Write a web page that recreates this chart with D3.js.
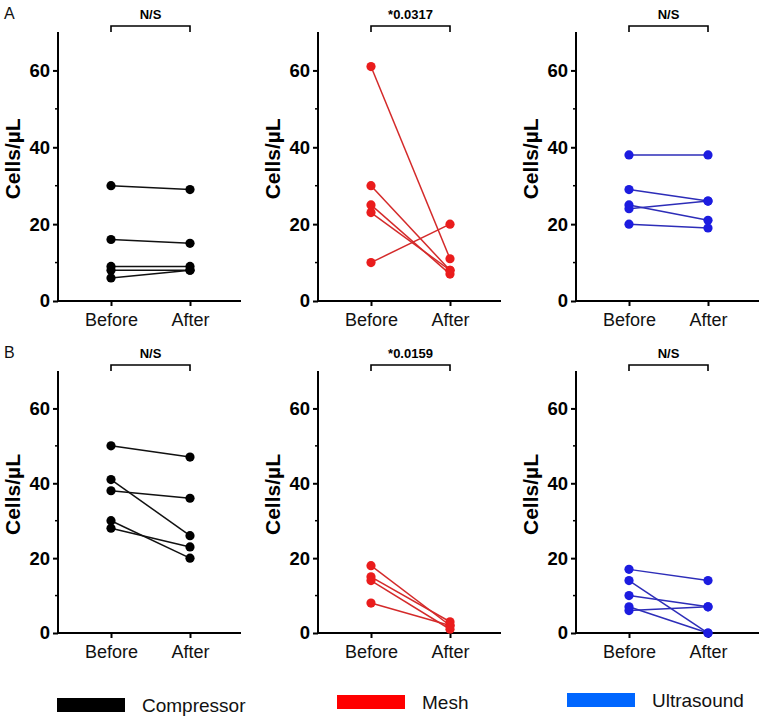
<!DOCTYPE html>
<html>
<head>
<meta charset="utf-8">
<script src="https://cdn.jsdelivr.net/npm/d3@7"></script>
<style>
  html, body { margin: 0; padding: 0; background: #fff; }
  svg { display: block; font-family: "Liberation Sans", Arial, sans-serif; }
</style>
</head>
<body>
<svg id="chart" width="768" height="721"></svg>
<script>
// ---------- Data ----------
const timepoints = ["Before", "After"];
const groups = ["Compressor", "Mesh", "Ultrasound"];
const rowLabels = ["A", "B"];
const yTicksMajor = [0, 20, 40, 60];
const yTicksMinor = [10, 30, 50];
const yMax = 70;

// Row A (paired before/after values)
const compressorA_before = [30, 16, 9, 8, 6];
const compressorA_after  = [29, 15, 9, 8, 8];
const meshA_before = [61, 30, 25, 23, 10];
const meshA_after  = [11, 8, 7, 8, 20];
const ultrasoundA_before = [38, 29, 25, 24, 20];
const ultrasoundA_after  = [38, 26, 21, 26, 19];

// Row B
const compressorB_before = [50, 41, 38, 30, 28];
const compressorB_after  = [47, 26, 36, 20, 23];
const meshB_before = [18, 15, 14, 8];
const meshB_after  = [2, 3, 1, 2];
const ultrasoundB_before = [17, 14, 10, 7, 6];
const ultrasoundB_after  = [14, 0, 7, 0, 7];

const sigA = ["N/S", "*0.0317", "N/S"];
const sigB = ["N/S", "*0.0159", "N/S"];

const panels = [
  [ [compressorA_before, compressorA_after], [meshA_before, meshA_after], [ultrasoundA_before, ultrasoundA_after] ],
  [ [compressorB_before, compressorB_after], [meshB_before, meshB_after], [ultrasoundB_before, ultrasoundB_after] ]
];
const sigs = [sigA, sigB];

// ---------- Styles / layout ----------
const pointColor = { Compressor: "#000000", Mesh: "#ea1c1c", Ultrasound: "#1c1ce0" };
const lineColor  = { Compressor: "#111111", Mesh: "#d42a2a", Ultrasound: "#2d2db8" };
const legendColor = { Compressor: "#000000", Mesh: "#ff0000", Ultrasound: "#0066ff" };

const rowLayout = [ { top: 32, bottom: 301 }, { top: 371, bottom: 633 } ];
const colAxisX = [58, 318, 576];
const axisLen = 183;

const svg = d3.select("#chart");

rowLayout.forEach((row, ri) => {
  const y = d3.scaleLinear().domain([0, yMax]).range([row.bottom, row.top]);

  // panel letter
  svg.append("text")
    .attr("x", 4).attr("y", row.top - 13)
    .attr("font-size", 16).attr("fill", "#111")
    .text(rowLabels[ri]);

  colAxisX.forEach((ax, ci) => {
    const grp = groups[ci];
    const x = d3.scalePoint().domain(timepoints).range([ax + 53, ax + 132]);
    const g = svg.append("g");

    // y axis (major)
    const yAxis = g.append("g").attr("transform", `translate(${ax},0)`)
      .call(d3.axisLeft(y).tickValues(yTicksMajor).tickSize(5).tickPadding(3).tickFormat(d3.format("d")));
    yAxis.select(".domain").attr("stroke", "#000").attr("stroke-width", 2);
    yAxis.selectAll(".tick line").attr("stroke", "#000").attr("stroke-width", 2);
    yAxis.selectAll(".tick text")
      .attr("font-size", 18.5).attr("font-weight", "bold").attr("fill", "#000")
      .attr("font-family", "Liberation Sans, Arial, sans-serif");
    // minor ticks
    g.append("g").selectAll("line").data(yTicksMinor).join("line")
      .attr("x1", ax - 3).attr("x2", ax)
      .attr("y1", d => y(d)).attr("y2", d => y(d))
      .attr("stroke", "#000").attr("stroke-width", 1.5);
    // clean up the y-domain end caps
    yAxis.select(".domain").attr("d", `M0,${y(yMax)}V${y(0)}`);

    // x axis
    const xAxis = g.append("g").attr("transform", `translate(0,${row.bottom})`)
      .call(d3.axisBottom(x).tickSize(5).tickPadding(7));
    xAxis.select(".domain").attr("d", `M${ax},0H${ax + axisLen}`)
      .attr("stroke", "#000").attr("stroke-width", 2);
    xAxis.selectAll(".tick line").attr("stroke", "#000").attr("stroke-width", 2);
    xAxis.selectAll(".tick text")
      .attr("font-size", 18).attr("fill", "#111")
      .attr("font-family", "Liberation Sans, Arial, sans-serif");

    // y title
    g.append("text")
      .attr("transform", `translate(${ax - 38},${y(37)}) rotate(-90)`)
      .attr("text-anchor", "middle")
      .attr("font-size", 21).attr("font-weight", "bold").attr("fill", "#000")
      .text("Cells/\u00B5L");

    // paired lines & points
    const [bef, aft] = panels[ri][ci];
    const pairs = bef.map((b, i) => ({ b, a: aft[i] }));
    g.append("g").selectAll("line").data(pairs).join("line")
      .attr("x1", x("Before")).attr("x2", x("After"))
      .attr("y1", d => y(d.b)).attr("y2", d => y(d.a))
      .attr("stroke", lineColor[grp]).attr("stroke-width", 1.5);
    const pts = [];
    pairs.forEach(d => { pts.push({ t: "Before", v: d.b }); pts.push({ t: "After", v: d.a }); });
    g.append("g").selectAll("circle").data(pts).join("circle")
      .attr("cx", d => x(d.t)).attr("cy", d => y(d.v)).attr("r", 4.6)
      .attr("fill", pointColor[grp]);

    // significance bracket
    const by = row.top - 6;
    g.append("path")
      .attr("d", `M${x("Before")},${by + 6}V${by}H${x("After")}V${by + 6}`)
      .attr("fill", "none").attr("stroke", "#000").attr("stroke-width", 1.6);
    g.append("text")
      .attr("x", (x("Before") + x("After")) / 2).attr("y", by - 7)
      .attr("text-anchor", "middle")
      .attr("font-size", 13).attr("font-weight", "bold").attr("fill", "#000")
      .text(sigs[ri][ci]);
  });
});

// ---------- Legend ----------
const legendItems = [
  { name: "Compressor", rx: 57, ry: 698 },
  { name: "Mesh", rx: 337, ry: 695 },
  { name: "Ultrasound", rx: 567, ry: 693 }
];
const lg = svg.append("g");
lg.selectAll("rect").data(legendItems).join("rect")
  .attr("x", d => d.rx).attr("y", d => d.ry).attr("width", 68).attr("height", 14)
  .attr("fill", d => legendColor[d.name]);
lg.selectAll("text").data(legendItems).join("text")
  .attr("x", d => d.rx + 85).attr("y", d => d.ry + 14)
  .attr("font-size", 19).attr("fill", "#111")
  .text(d => d.name);
</script>
</body>
</html>
